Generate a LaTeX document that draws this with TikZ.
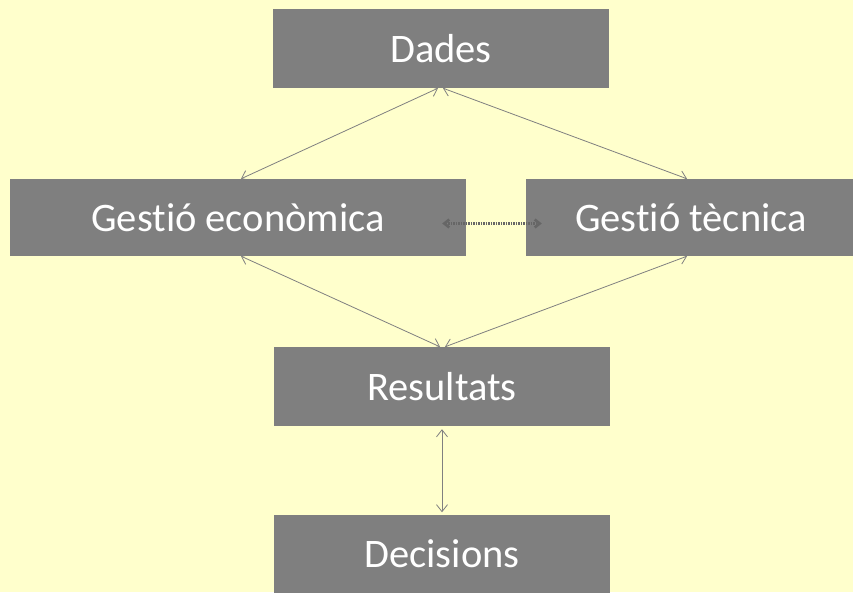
\documentclass[tikz,border=0pt]{standalone}
\usepackage{fontspec}
\setmainfont{Carlito}[RawFeature={-liga}]
\usepackage{tikz}
\usetikzlibrary{arrows.meta}

\definecolor{paper}{RGB}{255,255,204}
\definecolor{boxgray}{RGB}{127,127,127}
\definecolor{linegray}{RGB}{128,128,128}

\begin{document}
\begin{tikzpicture}[x=1pt, y=1pt,
		box/.style={fill=boxgray, text=white, inner sep=0pt, font=\fontsize{40.5}{48}\selectfont},
		link/.style={draw=linegray, line width=0.8pt, {Straight Barb[length=7pt,width=11pt]}-{Straight Barb[length=7pt,width=11pt]}},
		swap/.style={draw=black!60, line width=2.6pt, dash pattern=on 1.6pt off 0.9pt, {Straight Barb[length=5pt,width=8pt]}-{Straight Barb[length=5pt,width=8pt]}}]
		% Background and frame:
		\fill[paper] (0, 0) rectangle (853, 592);
		\useasboundingbox (0, 0) rectangle (853, 592);
		% Boxes:
		\node[box, minimum width=336pt, minimum height=79pt] (dades) at (441, 543.5) {Dades};
		\node[box, minimum width=456pt, minimum height=77pt] (econ) at (238, 374.5) {Gestió econòmica};
		\node[box, minimum width=330pt, minimum height=77pt] (tecn) at (691, 374.5) {Gestió tècnica};
		\node[box, minimum width=336pt, minimum height=79pt] (result) at (442, 205.5) {Resultats};
		\node[box, minimum width=336pt, minimum height=79pt] (decis) at (442, 38) {Decisions};
		% Links:
		\draw[link] ([xshift=3pt]econ.north) -- ([xshift=-3pt]dades.south);
		\draw[link] ([xshift=-4pt]tecn.north) -- ([xshift=2pt]dades.south);
		\draw[link] ([xshift=3pt]econ.south) -- ([xshift=-2pt]result.north);
		\draw[link] ([xshift=-4pt]tecn.south) -- ([xshift=3pt]result.north);
		\draw[link, shorten <=3pt, shorten >=2pt] (result.south) -- (decis.north);
		\draw[swap] ([xshift=-24pt, yshift=-6pt]econ.east) -- ([xshift=16pt, yshift=-6pt]tecn.west);
	\end{tikzpicture}
\end{document}
